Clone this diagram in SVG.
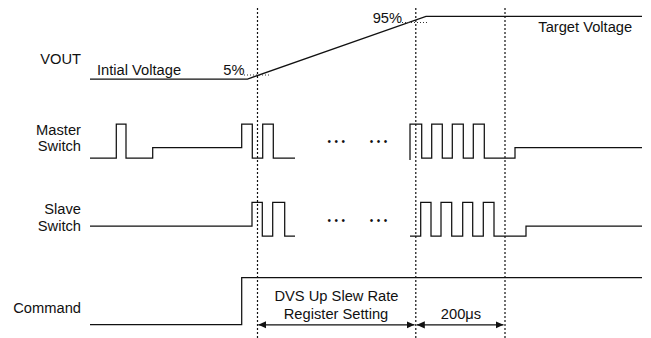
<svg xmlns="http://www.w3.org/2000/svg" width="651" height="338" viewBox="0 0 651 338">
<style>
text{font-family:"Liberation Sans",Arial,sans-serif;font-size:14.7px;fill:#111}
.lbl{text-anchor:end}
.mid{text-anchor:middle}
.dots{font-size:10px;letter-spacing:3.5px}
.w{fill:none;stroke:#111;stroke-width:1.25}
.guide{fill:none;stroke:#111;stroke-width:1.2;stroke-dasharray:2,2}
.lead{fill:none;stroke:#333;stroke-width:1;stroke-dasharray:1,2}
.arr{fill:none;stroke:#111;stroke-width:1.2;marker-start:url(#ah);marker-end:url(#ah)}
</style>
<defs>
<marker id="ah" viewBox="0 0 8 8" refX="8" refY="4" markerWidth="8" markerHeight="8" markerUnits="userSpaceOnUse" orient="auto-start-reverse">
<path d="M0,0.4 L8,4 L0,7.6 Z" fill="#111"/>
</marker>
</defs>
<rect width="651" height="338" fill="#fff"/>
<g id="vout">
<text class="lbl" x="81" y="63.5">VOUT</text>
<path class="w" d="M90,79 H247.5 L426,16.3 H642"/>
<text x="97" y="74.5">Intial Voltage</text>
<text x="223.3" y="75">5%</text>
<path class="lead" d="M244,75 H270"/>
<text x="372.7" y="22.7">95%</text>
<path class="lead" d="M402,22.5 H427"/>
<text x="538.3" y="31.7">Target Voltage</text>
</g>
<g id="master">
<text class="lbl" x="81" y="134.5">Master</text>
<text class="lbl" x="81" y="151">Switch</text>
<path class="w" d="M90,158 H116.3 V124 H126 V158 H152.7 V147.7 H241.7 V124 H252.3 V158 H262.7 V124 H273.3 V158 H295"/>
<path class="w" d="M410,160 V124 H421.7 V158 H431.7 V124 H442.3 V158 H452.3 V124 H463.3 V158 H473.3 V124 H484.3 V158 H515 V147.7 H642"/>
<text class="dots" x="327.5" y="145.3">•••</text>
<text class="dots" x="369.8" y="145.3">•••</text>
</g>
<g id="slave">
<text class="lbl" x="81" y="213.5">Slave</text>
<text class="lbl" x="81" y="231">Switch</text>
<path class="w" d="M90,226 H252 V202.3 H262.3 V236 H272.7 V202.3 H284.7 V236 H295"/>
<path class="w" d="M410,236 H420.7 V202.3 H431 V236 H441 V202.3 H451.7 V236 H462.7 V202.3 H472.7 V236 H483.3 V202.3 H494 V236 H526 V226 H642"/>
<text class="dots" x="327.5" y="223.6">•••</text>
<text class="dots" x="369.8" y="223.6">•••</text>
</g>
<g id="command">
<text class="lbl" x="81" y="313">Command</text>
<path class="w" d="M90,324.5 H241.7 V277.7 H642"/>
</g>
<g id="timing">
<text class="mid" x="336.5" y="300.7">DVS Up Slew Rate</text>
<text class="mid" x="336" y="319">Register Setting</text>
<text class="mid" x="461" y="319">200μs</text>
</g>
<g id="connectors">
<path class="guide" d="M257.5,8 V338"/>
<path class="guide" d="M415.8,8 V338"/>
<path class="guide" d="M505,8 V338"/>
<path class="arr" d="M258.3,324.8 H414.5"/>
<path class="arr" d="M416.8,324.8 H503.5"/>
</g>
</svg>
